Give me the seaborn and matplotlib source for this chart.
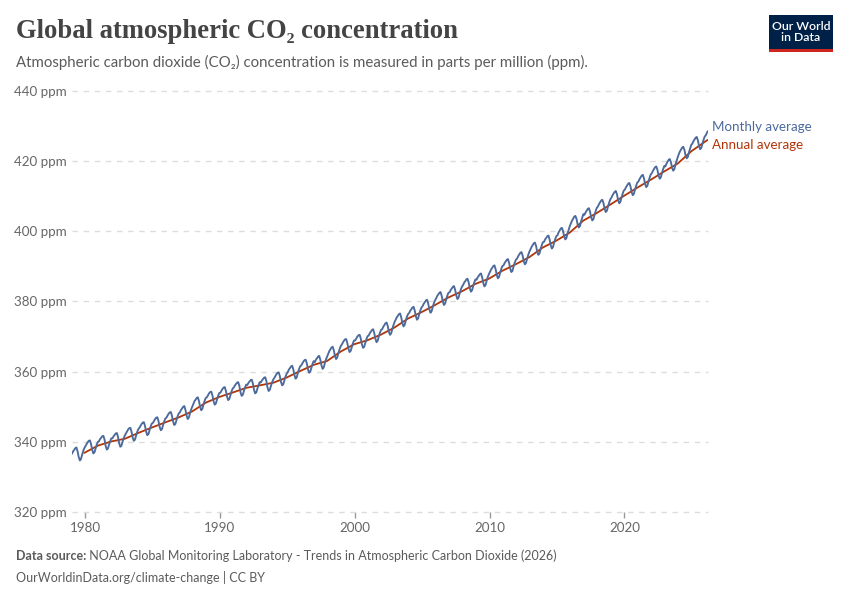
import matplotlib
matplotlib.use("Agg")
import matplotlib.pyplot as plt
import matplotlib.dates as mdates
from matplotlib.patches import Rectangle
import pandas as pd
import seaborn as sns

sns.set_theme(style="white")
plt.rcParams['font.family'] = ['Lato', 'DejaVu Sans']

# ---------------- data (ppm) ----------------
monthly_start = "1979-01"
monthly_co2 = [
    336.6, 337.3, 337.7, 338.2, 338.4, 337.3, 335.7, 334.7, 335.1, 336.3, 337.4, 338.2,  # 1979
    338.8, 339.4, 339.9, 340.3, 340.4, 339.3, 337.7, 336.7, 337.0, 338.1, 339.2, 340.0,  # 1980
    340.2, 340.8, 341.2, 341.6, 341.7, 340.6, 338.8, 337.8, 338.1, 339.2, 340.2, 341.0,  # 1981
    341.0, 341.6, 342.0, 342.4, 342.5, 341.4, 339.6, 338.6, 338.9, 340.0, 341.0, 341.8,  # 1982
    342.4, 343.0, 343.5, 343.9, 344.0, 342.9, 341.3, 340.3, 340.6, 341.7, 342.8, 343.6,  # 1983
    344.0, 344.6, 345.1, 345.5, 345.6, 344.5, 342.9, 341.9, 342.2, 343.3, 344.4, 345.2,  # 1984
    345.4, 346.0, 346.5, 346.9, 347.0, 345.9, 344.3, 343.3, 343.6, 344.7, 345.8, 346.6,  # 1985
    346.9, 347.5, 348.0, 348.4, 348.5, 347.4, 345.8, 344.8, 345.1, 346.2, 347.3, 348.1,  # 1986
    348.4, 349.1, 349.5, 350.0, 350.2, 349.1, 347.5, 346.5, 346.9, 348.1, 349.2, 350.0,  # 1987
    350.9, 351.6, 352.0, 352.5, 352.7, 351.6, 350.0, 349.0, 349.4, 350.6, 351.7, 352.5,  # 1988
    352.7, 353.3, 353.8, 354.2, 354.3, 353.2, 351.6, 350.6, 350.9, 352.0, 353.1, 353.9,  # 1989
    354.0, 354.6, 355.1, 355.5, 355.6, 354.5, 352.9, 351.9, 352.2, 353.3, 354.4, 355.2,  # 1990
    355.5, 356.1, 356.5, 356.9, 357.0, 355.9, 354.1, 353.1, 353.4, 354.5, 355.5, 356.3,  # 1991
    356.2, 356.8, 357.2, 357.6, 357.7, 356.6, 354.8, 353.8, 354.1, 355.2, 356.2, 357.0,  # 1992
    356.9, 357.5, 357.9, 358.3, 358.4, 357.3, 355.5, 354.5, 354.8, 355.9, 356.9, 357.7,  # 1993
    358.2, 358.8, 359.3, 359.7, 359.8, 358.7, 357.1, 356.1, 356.4, 357.5, 358.6, 359.4,  # 1994
    359.9, 360.6, 361.0, 361.5, 361.7, 360.6, 359.0, 358.0, 358.4, 359.6, 360.7, 361.5,  # 1995
    361.8, 362.4, 362.9, 363.3, 363.4, 362.3, 360.7, 359.7, 360.0, 361.1, 362.2, 363.0,  # 1996
    362.7, 363.4, 363.8, 364.3, 364.5, 363.4, 361.8, 360.8, 361.2, 362.4, 363.5, 364.3,  # 1997
    365.2, 365.9, 366.4, 366.9, 367.1, 366.1, 364.5, 363.6, 364.0, 365.2, 366.3, 367.2,  # 1998
    367.7, 368.3, 368.8, 369.2, 369.3, 368.2, 366.6, 365.6, 365.9, 367.0, 368.1, 368.9,  # 1999
    368.9, 369.5, 370.0, 370.4, 370.5, 369.4, 367.8, 366.8, 367.1, 368.2, 369.3, 370.1,  # 2000
    370.3, 371.0, 371.4, 371.9, 372.1, 371.0, 369.4, 368.4, 368.8, 370.0, 371.1, 371.9,  # 2001
    372.1, 372.8, 373.3, 373.8, 374.0, 373.0, 371.4, 370.5, 370.9, 372.1, 373.2, 374.1,  # 2002
    374.8, 375.5, 375.9, 376.4, 376.6, 375.5, 373.9, 372.9, 373.3, 374.5, 375.6, 376.4,  # 2003
    376.7, 377.4, 377.8, 378.3, 378.5, 377.4, 375.8, 374.8, 375.2, 376.4, 377.5, 378.3,  # 2004
    378.7, 379.4, 379.8, 380.3, 380.5, 379.4, 377.8, 376.8, 377.2, 378.4, 379.5, 380.3,  # 2005
    380.9, 381.6, 382.0, 382.5, 382.7, 381.6, 380.0, 379.0, 379.4, 380.6, 381.7, 382.5,  # 2006
    382.6, 383.3, 383.7, 384.2, 384.4, 383.3, 381.7, 380.7, 381.1, 382.3, 383.4, 384.2,  # 2007
    384.7, 385.4, 385.8, 386.3, 386.5, 385.4, 383.8, 382.8, 383.2, 384.4, 385.5, 386.3,  # 2008
    386.2, 386.9, 387.3, 387.8, 388.0, 386.9, 385.3, 384.3, 384.7, 385.9, 387.0, 387.8,  # 2009
    388.5, 389.2, 389.6, 390.1, 390.3, 389.2, 387.6, 386.6, 387.0, 388.2, 389.3, 390.1,  # 2010
    390.3, 391.0, 391.4, 391.9, 392.1, 391.0, 389.4, 388.4, 388.8, 390.0, 391.1, 391.9,  # 2011
    392.2, 392.9, 393.4, 393.9, 394.1, 393.1, 391.5, 390.6, 391.0, 392.2, 393.3, 394.2,  # 2012
    394.9, 395.6, 396.1, 396.6, 396.8, 395.8, 394.2, 393.3, 393.7, 394.9, 396.0, 396.9,  # 2013
    397.0, 397.7, 398.1, 398.6, 398.8, 397.7, 396.1, 395.1, 395.5, 396.7, 397.8, 398.6,  # 2014
    398.9, 399.7, 400.2, 400.8, 401.0, 400.1, 398.5, 397.7, 398.1, 399.4, 400.5, 401.5,  # 2015
    402.3, 403.1, 403.6, 404.2, 404.4, 403.5, 401.9, 401.1, 401.5, 402.8, 403.9, 404.9,  # 2016
    404.7, 405.4, 405.9, 406.4, 406.6, 405.6, 404.0, 403.1, 403.5, 404.7, 405.8, 406.7,  # 2017
    407.1, 407.8, 408.3, 408.8, 409.0, 408.0, 406.4, 405.5, 405.9, 407.1, 408.2, 409.1,  # 2018
    409.6, 410.3, 410.8, 411.3, 411.5, 410.5, 408.9, 408.0, 408.4, 409.6, 410.7, 411.6,  # 2019
    411.9, 412.6, 413.1, 413.6, 413.8, 412.8, 411.2, 410.3, 410.7, 411.9, 413.0, 413.9,  # 2020
    414.2, 414.9, 415.4, 415.9, 416.1, 415.1, 413.5, 412.6, 413.0, 414.2, 415.3, 416.2,  # 2021
    416.6, 417.3, 417.8, 418.3, 418.5, 417.5, 415.9, 415.0, 415.4, 416.6, 417.7, 418.6,  # 2022
    418.5, 419.3, 419.8, 420.4, 420.6, 419.7, 418.1, 417.3, 417.7, 419.0, 420.1, 421.1,  # 2023
    422.0, 422.8, 423.3, 423.9, 424.1, 423.2, 421.6, 420.8, 421.2, 422.5, 423.6, 424.6,  # 2024
    425.0, 425.7, 426.2, 426.7, 426.9, 425.9, 424.3, 423.4, 423.8, 425.0, 426.1, 427.0,  # 2025
    427.4, 428.1, 428.6,                                                                  # 2026
]

annual_years = list(range(1979, 2026))
annual_co2 = [
    336.85, 338.91, 340.11, 340.86, 342.53, 344.07, 345.54, 346.97, 348.68, 351.16,
    352.78, 354.05, 355.39, 356.09, 356.83, 358.33, 360.17, 361.93, 363.04, 365.70,
    367.80, 368.96, 370.57, 372.58, 375.14, 376.95, 378.98, 381.15, 382.90, 385.02,
    386.50, 388.76, 390.63, 392.65, 395.40, 397.34, 399.65, 403.06, 405.22, 407.61,
    410.07, 412.44, 414.70, 417.07, 419.31, 422.79, 425.50,
]
# latest 12-month average (ending March 2026)
latest_period = "2026-03"
latest_value = 426.1

yticks = [320, 340, 360, 380, 400, 420, 440]

BLUE = "#4c6a9c"
RED = "#b13507"
TEXT = "#5b5b5b"

# ---------------- frames ----------------
mid = pd.Timedelta(days=14)
df_month = pd.DataFrame({
    "date": pd.date_range(monthly_start, periods=len(monthly_co2), freq="MS") + mid,
    "ppm": monthly_co2,
})
annual_periods = [f"{y}-12" for y in annual_years] + [latest_period]
df_year = pd.DataFrame({
    "date": pd.to_datetime(annual_periods) + mid,
    "ppm": annual_co2 + [latest_value],
})

# ---------------- figure ----------------
fig = plt.figure(figsize=(8.5, 6), dpi=100)
ax = fig.add_axes([72 / 850, 1 - 512 / 600, 636 / 850, 421 / 600])

sns.lineplot(data=df_year, x="date", y="ppm", color=RED, linewidth=1.3, ax=ax, legend=False)
sns.lineplot(data=df_month, x="date", y="ppm", color=BLUE, linewidth=1.35, ax=ax, legend=False)

ax.set_xlim(df_month["date"].min(), df_month["date"].max())
ax.set_ylim(320, 440)
ax.set_yticks(yticks)
ax.set_yticklabels([f"{v} ppm" for v in yticks])
ax.xaxis.set_major_locator(mdates.YearLocator(10))
ax.xaxis.set_major_formatter(mdates.DateFormatter("%Y"))
ax.set_xlabel("")
ax.set_ylabel("")

for s in ax.spines.values():
    s.set_visible(False)
ax.yaxis.grid(True, linestyle=(0, (4, 4)), color="#dddddd", linewidth=1)
ax.xaxis.grid(False)
for gl in ax.get_ygridlines():
    gl.set_clip_on(False)
ax.tick_params(axis="y", length=0, pad=4, labelsize=9.6, labelcolor="#666666")
ax.tick_params(axis="x", length=4, width=1, color="#999999", direction="out",
               pad=3, labelsize=9.6, labelcolor="#666666", bottom=True)

# line labels
fig.text(712 / 850, 1 - 127 / 600, "Monthly average", color=BLUE, fontsize=9.6, va="center")
fig.text(712 / 850, 1 - 145 / 600, "Annual average", color=RED, fontsize=9.6, va="center")

# header
fig.text(16 / 850, 1 - 31 / 600, "Global atmospheric CO₂ concentration",
         family=["Liberation Serif", "DejaVu Serif"], fontweight="bold",
         fontsize=19.2, color="#444444", va="center")
fig.text(16 / 850, 1 - 62 / 600,
         "Atmospheric carbon dioxide (CO₂) concentration is measured in parts per million (ppm).",
         fontsize=10.8, color=TEXT, va="center")

# logo
fig.add_artist(Rectangle((769 / 850, 1 - 49 / 600), 64 / 850, 34 / 600,
                         transform=fig.transFigure, color="#002147", lw=0))
fig.add_artist(Rectangle((769 / 850, 1 - 52 / 600), 64 / 850, 3 / 600,
                         transform=fig.transFigure, color="#ce261e", lw=0))
fig.text(801 / 850, 1 - 32 / 600, "Our World\nin Data", color="white", fontsize=8.8,
         fontweight="semibold", ha="center", va="center", linespacing=1.0)

# footer
t1 = fig.text(16 / 850, 1 - 556 / 600, "Data source:", fontsize=9.0,
              fontweight="bold", color=TEXT, va="center")
ax.annotate(" NOAA Global Monitoring Laboratory - Trends in Atmospheric Carbon Dioxide (2026)",
            xy=(1, 0.5), xycoords=t1, va="center", fontsize=9.0, color=TEXT)
fig.text(16 / 850, 1 - 577 / 600, "OurWorldinData.org/climate-change | CC BY",
         fontsize=9.0, color=TEXT, va="center")

fig.savefig("out.png", dpi=100)
